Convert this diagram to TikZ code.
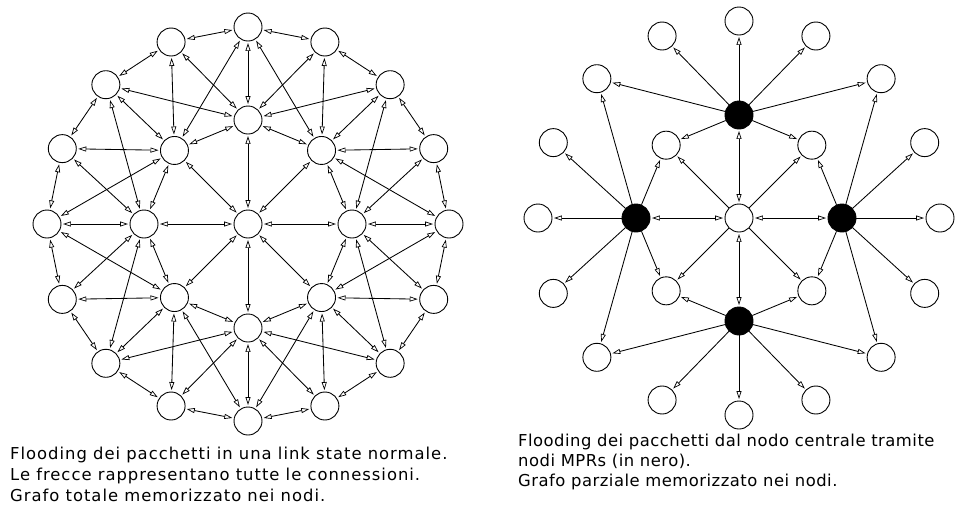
\documentclass[tikz,border=0pt]{standalone}
\usepackage{fontspec}
\newfontfamily\capfont{DejaVu Sans}[LetterSpace=6]
\newfontfamily\capfontb{DejaVu Sans}[LetterSpace=3]
\usetikzlibrary{arrows.meta}
\begin{document}
\begin{tikzpicture}[x=1pt,y=-1pt,
  nd/.style={circle,draw,line width=0.9pt,minimum size=28pt,inner sep=0pt,fill=white},
  mpr/.style={nd,fill=black},
  hd/.tip={Triangle[open,length=8pt,width=5pt,line width=0.7pt]},
  lk/.style={line width=0.85pt,{hd}-{hd},shorten <=1.5pt,shorten >=1.5pt},
  fw/.style={line width=0.85pt,-{hd},shorten >=1.5pt},
  caption/.style={anchor=base west,inner sep=0pt,font=\capfont\fontsize{16.4}{20}\selectfont},
  captionb/.style={anchor=base west,inner sep=0pt,font=\capfontb\fontsize{16.4}{20}\selectfont}
]
\useasboundingbox (0,0) rectangle (966,507);

% ---------- left graph: full link state ----------
\foreach \k in {0,...,15}
  \node[nd] (Lo\k) at ({248+201*cos(22.5*\k)},{224-197*sin(22.5*\k)}) {};
\foreach \m in {0,...,7}
  \node[nd] (Li\m) at ({248+104*cos(45*\m)},{224-104*sin(45*\m)}) {};
\node[nd] (Lc) at (248,224) {};

% outer ring neighbours
\foreach \k in {0,...,15}{
  \pgfmathtruncatemacro\kN{mod(\k+1,16)}
  \draw[lk] (Lo\k) -- (Lo\kN);
}
% inner ring, centre spokes and inner-outer links
\foreach \m in {0,...,7}{
  \pgfmathtruncatemacro\kA{2*\m}
  \pgfmathtruncatemacro\kB{2*\m+1}
  \pgfmathtruncatemacro\iP{mod(\m+1,8)}
  \pgfmathtruncatemacro\iQ{mod(\m+7,8)}
  \draw[lk] (Li\m) -- (Lo\kA);
  \draw[lk] (Li\iP) -- (Lo\kA);
  \draw[lk] (Li\iQ) -- (Lo\kA);
  \draw[lk] (Li\m) -- (Lo\kB);
  \draw[lk] (Li\iP) -- (Lo\kB);
  \draw[lk] (Li\m) -- (Li\iP);
  \draw[lk] (Lc) -- (Li\m);
}

% ---------- right graph: flooding through MPRs ----------
\foreach \k in {0,...,15}
  \node[nd] (Ro\k) at ({739+201*cos(22.5*\k)},{218-197*sin(22.5*\k)}) {};
\foreach \m in {1,3,5,7}
  \node[nd] (Ri\m) at ({739+103*cos(45*\m)},{218-103*sin(45*\m)}) {};
\foreach \m in {0,2,4,6}
  \node[mpr] (Ri\m) at ({739+103*cos(45*\m)},{218-103*sin(45*\m)}) {};
\node[nd] (Rc) at (739,218) {};

\foreach \m in {0,2,4,6}{
  \pgfmathtruncatemacro\kA{2*\m}
  \pgfmathtruncatemacro\kP{mod(2*\m+1,16)}
  \pgfmathtruncatemacro\kQ{mod(2*\m+15,16)}
  \pgfmathtruncatemacro\kR{mod(2*\m+2,16)}
  \pgfmathtruncatemacro\kS{mod(2*\m+14,16)}
  \pgfmathtruncatemacro\iP{mod(\m+1,8)}
  \pgfmathtruncatemacro\iQ{mod(\m+7,8)}
  \draw[lk] (Rc) -- (Ri\m);
  \draw[fw] (Ri\m) -- (Ro\kA);
  \draw[fw] (Ri\m) -- (Ro\kP);
  \draw[fw] (Ri\m) -- (Ro\kQ);
  \draw[fw] (Ri\m) -- (Ro\kR);
  \draw[fw] (Ri\m) -- (Ro\kS);
  \draw[fw] (Ri\m) -- (Ri\iP);
  \draw[fw] (Ri\m) -- (Ri\iQ);
}
\foreach \m in {1,3,5,7}
  \draw[fw] (Rc) -- (Ri\m);

% ---------- captions ----------
\node[caption] (la) at (10,459) {Flooding dei pacchetti in una link state normale.};
\node[caption] (lb) at (10,480) {Le frecce rappresentano tutte le connessioni.};
\node[caption] (lc) at (10,501) {Grafo totale memorizzato nei nodi.};
\node[captionb] (ra) at (518,446) {Flooding dei pacchetti dal nodo centrale tramite};
\node[captionb] (rb) at (518,466) {nodi MPRs (in nero).};
\node[captionb] (rc) at (518,486) {Grafo parziale memorizzato nei nodi.};
\end{tikzpicture}
\end{document}
